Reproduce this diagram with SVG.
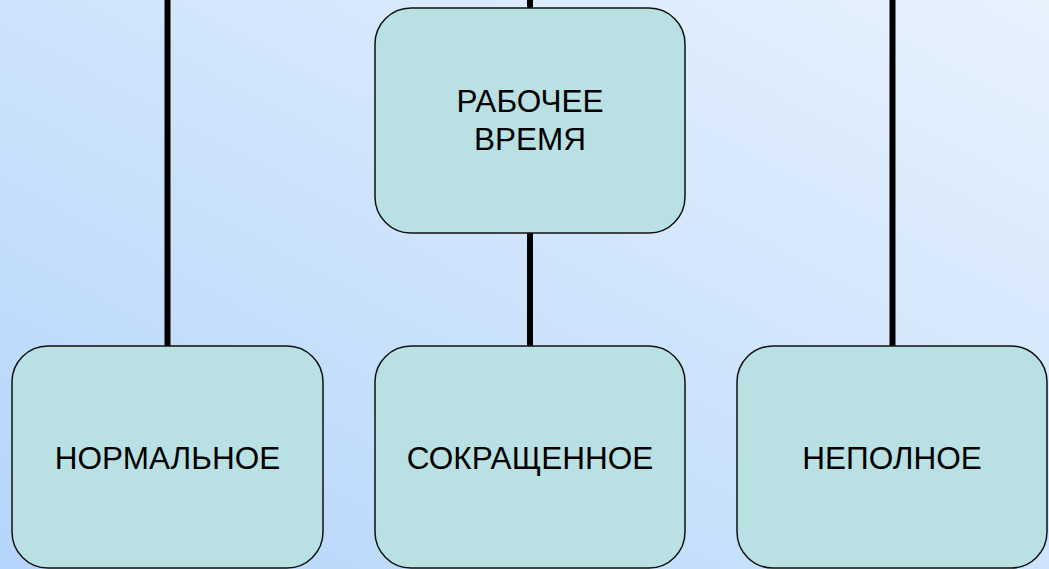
<svg xmlns="http://www.w3.org/2000/svg" width="1049" height="569" viewBox="0 0 1049 569">
<defs>
<linearGradient id="bg" x1="0" y1="1" x2="1" y2="0">
<stop offset="0" stop-color="#b4d5fb"/>
<stop offset="1" stop-color="#e8f2fd"/>
</linearGradient>
<style>
.box{fill:#b9e0e3;stroke:#111;stroke-width:1.5}
.lbl{font-family:"Liberation Sans",Arial,sans-serif;font-size:31.5px;fill:#000;text-anchor:middle}
.conn{stroke:#000;stroke-width:6;fill:none}
</style>
</defs>
<rect x="0" y="0" width="1049" height="569" fill="url(#bg)"/>
<g id="connectors">
<line class="conn" x1="167.5" y1="0" x2="167.5" y2="346"/>
<line class="conn" x1="530" y1="0" x2="530" y2="346"/>
<line class="conn" x1="892.5" y1="0" x2="892.5" y2="346"/>
</g>
<g id="node-top">
<rect class="box" x="375" y="8" width="310" height="225" rx="36"/>
<text class="lbl" x="530" y="112">РАБОЧЕЕ</text>
<text class="lbl" x="530" y="150">ВРЕМЯ</text>
</g>
<g id="node-normal">
<rect class="box" x="12" y="346" width="311" height="222" rx="36"/>
<text class="lbl" x="167.5" y="469">НОРМАЛЬНОЕ</text>
</g>
<g id="node-short">
<rect class="box" x="375" y="346" width="310" height="222" rx="36"/>
<text class="lbl" x="530" y="469">СОКРАЩЕННОЕ</text>
</g>
<g id="node-partial">
<rect class="box" x="737" y="346" width="310" height="222" rx="36"/>
<text class="lbl" x="892" y="469">НЕПОЛНОЕ</text>
</g>
</svg>
